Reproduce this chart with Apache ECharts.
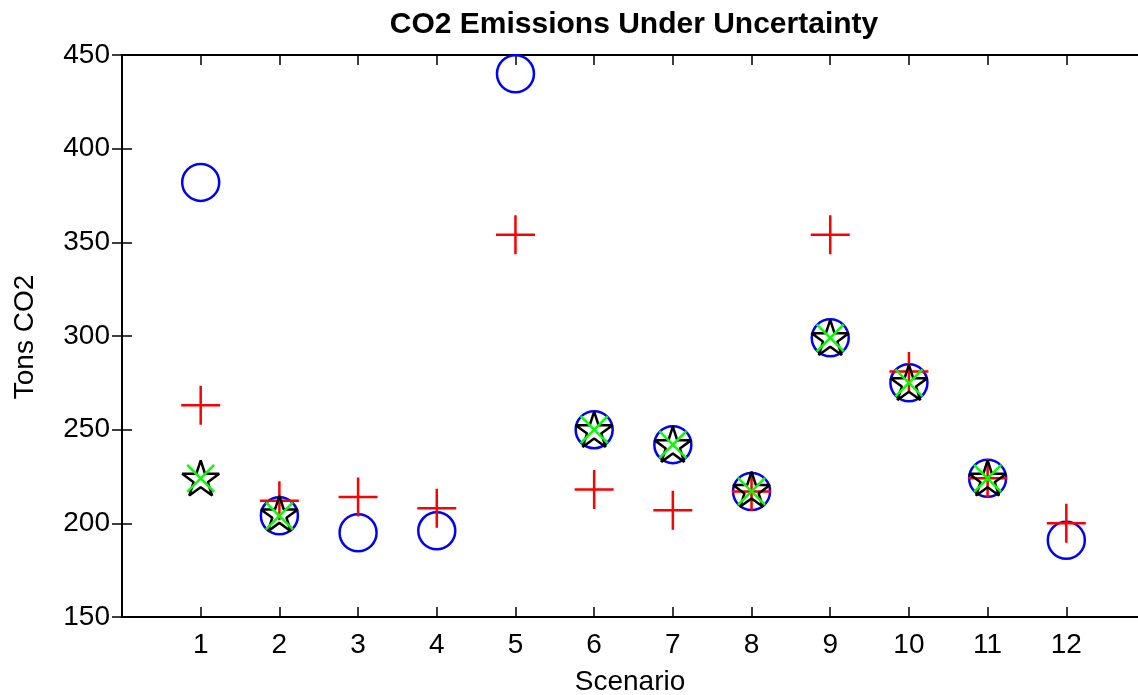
<!DOCTYPE html>
<html>
<head>
<meta charset="utf-8">
<script src="https://cdn.jsdelivr.net/npm/echarts@6/dist/echarts.min.js"></script>
<style>
html,body{margin:0;padding:0;background:#fff;overflow:hidden;}
#c{width:1148px;height:695px;}
</style>
</head>
<body>
<div id="c"></div>
<script>
const scenarios = [1,2,3,4,5,6,7,8,9,10,11,12];
const circleVals = [382, 204, 195, 196, 440, 250, 242, 217, 299, 275, 224, 191];
const plusVals   = [263, 212, 214, 208, 354, 218, 207, 217, 354, 281, 224, 200];
const starVals   = [225, 206, null, null, null, 251, 243, 219, 300, 276, 225, null];
const xVals      = [224, 204, null, null, null, 250, 242, 217, 299, 275, 224, null];
const yTicks = [150, 200, 250, 300, 350, 400, 450];

function pairs(vals){ return scenarios.map((s,i)=> vals[i]==null ? null : [s, vals[i]]).filter(d=>d); }

// pentagram outline path
let pts = [];
for (let k=0;k<10;k++){
  const r = k%2===0 ? 1 : 0.382;
  const a = (-90 + k*36) * Math.PI/180;
  pts.push((r*Math.cos(a)).toFixed(4)+','+(r*Math.sin(a)).toFixed(4));
}
const starPath = 'path://M' + pts.join(' L') + ' Z';
const plusPath = 'path://M1,0 L1,2 M0,1 L2,1';
const xPath = 'path://M0,0 L2,2 M0,2 L2,0';

const FONT = 'Liberation Sans, Arial, sans-serif';
const chart = echarts.init(document.getElementById('c'), null, {renderer:'canvas'});
const axisLine = {show:true, lineStyle:{color:'#000', width:2}};
const tick = {show:true, inside:true, length:10, lineStyle:{color:'#000', width:1.5}};

chart.setOption({
  animation:false,
  backgroundColor:'#fff',
  grid:{left:122, top:55, right:0, bottom:78, containLabel:false},
  xAxis:[
    {type:'value', min:0, max:13, interval:1, position:'bottom',
     axisLine:axisLine, axisTick:tick, splitLine:{show:false},
     axisLabel:{fontSize:28, color:'#000', fontFamily:FONT, margin:14,
       formatter:(v)=> scenarios.indexOf(v)>=0 ? String(v) : ''}},
    {type:'value', min:0, max:13, interval:1, position:'top',
     axisLine:axisLine, axisTick:tick, splitLine:{show:false}, axisLabel:{show:false}}
  ],
  yAxis:[
    {type:'value', min:yTicks[0], max:yTicks[yTicks.length-1], interval:50, position:'left',
     axisLine:axisLine, axisTick:tick, splitLine:{show:false},
     axisLabel:{fontSize:28, color:'#000', fontFamily:FONT, margin:12}},
    {type:'value', min:yTicks[0], max:yTicks[yTicks.length-1], interval:50, position:'right',
     axisLine:{show:false}, axisTick:tick, splitLine:{show:false}, axisLabel:{show:false}}
  ],
  graphic:[
    {type:'text', x:634, y:25, style:{text:'CO2 Emissions Under Uncertainty', font:'bold 30px '+FONT, fill:'#000', textAlign:'center', textVerticalAlign:'middle'}},
    {type:'text', x:630, y:682, style:{text:'Scenario', font:'28px '+FONT, fill:'#000', textAlign:'center', textVerticalAlign:'middle'}},
    {type:'text', x:25, y:337, rotation:Math.PI/2, style:{text:'Tons CO2', font:'28px '+FONT, fill:'#000', textAlign:'center', textVerticalAlign:'middle'}}
  ],
  series:[
    {type:'scatter', data:pairs(circleVals), symbol:'circle', symbolSize:37,
     itemStyle:{color:'transparent', borderColor:'#0000ff', borderWidth:2.5, opacity:1}},
    {type:'scatter', data:pairs(plusVals), symbol:plusPath, symbolSize:39,
     itemStyle:{color:'transparent', borderColor:'#ff0000', borderWidth:2.5, opacity:1}},
    {type:'scatter', data:pairs(starVals), symbol:starPath, symbolSize:37, symbolKeepAspect:true, symbolOffset:[0,1.5],
     itemStyle:{color:'transparent', borderColor:'#000000', borderWidth:2.5, borderJoin:'bevel', opacity:1}},
    {type:'scatter', data:pairs(xVals), symbol:xPath, symbolSize:27,
     itemStyle:{color:'transparent', borderColor:'#00ff00', borderWidth:2.5, opacity:1}}
  ]
});
</script>
</body>
</html>
